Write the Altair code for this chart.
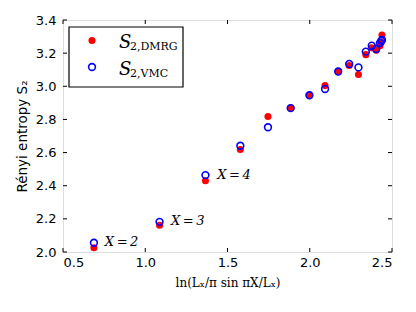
import altair as alt
import pandas as pd

# x = ln(Lx/pi * sin(pi X / Lx)), X = 2..18
xs = [0.688, 1.087, 1.366, 1.578, 1.746, 1.884, 1.998, 2.093, 2.173, 2.240,
      2.296, 2.341, 2.377, 2.404, 2.427, 2.435, 2.439]
s2_dmrg = [2.026, 2.161, 2.430, 2.619, 2.818, 2.870, 2.946, 3.004, 3.090, 3.125,
           3.071, 3.191, 3.232, 3.218, 3.245, 3.265, 3.310]
s2_vmc = [2.056, 2.182, 2.464, 2.641, 2.753, 2.868, 2.946, 2.984, 3.089, 3.135,
          3.114, 3.209, 3.245, 3.225, 3.262, 3.274, 3.280]

x_ticks = [0.5, 1.0, 1.5, 2.0, 2.5]
y_ticks = [2.0, 2.2, 2.4, 2.6, 2.8, 3.0, 3.2, 3.4]

ann_x = [0.754, 1.156, 1.437]
ann_y = [2.058, 2.185, 2.462]
ann_text = ["X\u2009=\u20092", "X\u2009=\u20093", "X\u2009=\u20094"]

W, H = 329, 232

df = pd.DataFrame({"x": xs, "dmrg": s2_dmrg, "vmc": s2_vmc})
ann = pd.DataFrame({"x": ann_x, "y": ann_y, "t": ann_text})
xt = pd.DataFrame({"t": x_ticks})
yt = pd.DataFrame({"t": y_ticks})

xscale = alt.Scale(domain=[0.5, 2.5], nice=False, zero=False)
yscale = alt.Scale(domain=[2.0, 3.4], nice=False, zero=False)

xaxis = alt.Axis(values=x_ticks, format=".1f", ticks=False, grid=False,
                 labelFont="DejaVu Sans", labelFontSize=13, labelColor="black",
                 labelPadding=4, domain=False, labelOverlap=False,
                 title="ln(Lₓ/π sin πX/Lₓ)", titleFont="DejaVu Serif",
                 titleFontWeight="normal", titleFontSize=12, titleColor="black",
                 titlePadding=8)
yaxis = alt.Axis(values=y_ticks, format=".1f", ticks=False, grid=False,
                 labelFont="DejaVu Sans", labelFontSize=13, labelColor="black",
                 labelPadding=7, domain=False, labelOverlap=False,
                 title="Rényi entropy S₂", titleFont="DejaVu Sans",
                 titleFontWeight="normal", titleFontSize=13.5, titleColor="black",
                 titlePadding=6)

base = alt.Chart(df)
red = base.mark_circle(color="red", opacity=1, size=50).encode(
    x=alt.X("x:Q", scale=xscale, axis=xaxis),
    y=alt.Y("dmrg:Q", scale=yscale, axis=yaxis),
)
blue = base.mark_point(shape="circle", filled=False, color="blue",
                       strokeWidth=1.6, opacity=1, size=46).encode(
    x=alt.X("x:Q", scale=xscale, axis=xaxis),
    y=alt.Y("vmc:Q", scale=yscale, axis=yaxis),
)

annot = alt.Chart(ann).mark_text(font="DejaVu Serif", fontStyle="italic",
                                 fontSize=13, align="left", baseline="middle",
                                 color="black").encode(
    x=alt.X("x:Q", scale=xscale, axis=xaxis),
    y=alt.Y("y:Q", scale=yscale, axis=yaxis), text="t:N")

tk = 4
xb = alt.Chart(xt).mark_rule(color="black", strokeWidth=1).encode(
    x=alt.X("t:Q", scale=xscale, axis=xaxis), y=alt.value(H), y2=alt.value(H - tk))
xtop = alt.Chart(xt).mark_rule(color="black", strokeWidth=1).encode(
    x=alt.X("t:Q", scale=xscale, axis=xaxis), y=alt.value(0), y2=alt.value(tk))
yl = alt.Chart(yt).mark_rule(color="black", strokeWidth=1).encode(
    y=alt.Y("t:Q", scale=yscale, axis=yaxis), x=alt.value(0), x2=alt.value(tk))
yr = alt.Chart(yt).mark_rule(color="black", strokeWidth=1).encode(
    y=alt.Y("t:Q", scale=yscale, axis=yaxis), x=alt.value(W), x2=alt.value(W - tk))

# legend
leg_df = pd.DataFrame({"k": [0]})
leg_box = alt.Chart(leg_df).mark_rect(fill="white", stroke="black",
                                      strokeWidth=1.2).encode(
    x=alt.value(6), x2=alt.value(120), y=alt.value(7), y2=alt.value(67))
leg_red = alt.Chart(leg_df).mark_circle(color="red", opacity=1, size=50).encode(
    x=alt.value(29), y=alt.value(20.5))
leg_blue = alt.Chart(leg_df).mark_point(shape="circle", filled=False, color="blue",
                                        strokeWidth=1.6, opacity=1, size=46).encode(
    x=alt.value(29), y=alt.value(47))
leg_s1 = alt.Chart(leg_df).mark_text(text="S", font="DejaVu Serif", fontStyle="italic",
                                     fontSize=18, align="left", baseline="alphabetic").encode(
    x=alt.value(56), y=alt.value(27.5))
leg_sub1 = alt.Chart(leg_df).mark_text(text="2,DMRG", font="DejaVu Serif",
                                       fontSize=11, align="left", baseline="alphabetic").encode(
    x=alt.value(67), y=alt.value(30))
leg_s2 = alt.Chart(leg_df).mark_text(text="S", font="DejaVu Serif", fontStyle="italic",
                                     fontSize=18, align="left", baseline="alphabetic").encode(
    x=alt.value(56), y=alt.value(54.5))
leg_sub2 = alt.Chart(leg_df).mark_text(text="2,VMC", font="DejaVu Serif",
                                       fontSize=11, align="left", baseline="alphabetic").encode(
    x=alt.value(67), y=alt.value(57))

chart = alt.layer(
    red, blue, annot, xb, xtop, yl, yr,
    leg_box, leg_red, leg_blue, leg_s1, leg_sub1, leg_s2, leg_sub2,
).properties(
    width=W, height=H,
    autosize=alt.AutoSizeParams(type="none"),
    padding={"left": 55, "top": 12, "right": 16, "bottom": 52},
).configure_view(
    stroke="black", strokeWidth=1.2
).configure_axis(labelOverlap=False).configure(background="white")

chart.save("out.html", embed_options={"renderer": "svg", "actions": False})
